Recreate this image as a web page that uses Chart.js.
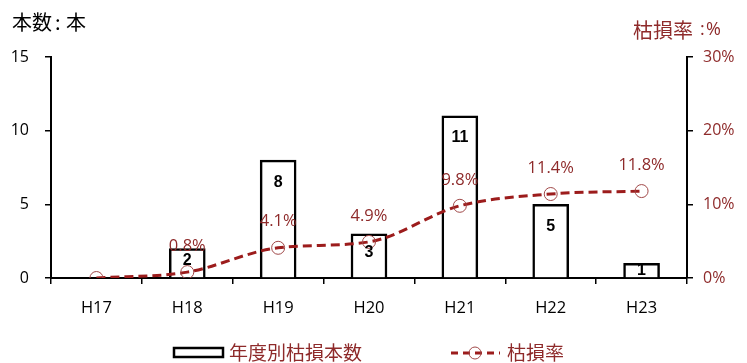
<!DOCTYPE html>
<html>
<head>
<meta charset="utf-8">
<script src="https://cdn.jsdelivr.net/npm/chart.js@4/dist/chart.umd.min.js"></script>
<style>
  html, body { margin: 0; padding: 0; background: #fff; }
  #wrap { width: 747px; height: 363px; }
</style>
</head>
<body>
<div id="wrap"><canvas id="mixChart" width="747" height="363"></canvas></div>
<script>
var years = ['H17', 'H18', 'H19', 'H20', 'H21', 'H22', 'H23'];
var deadTrees = [0, 2, 8, 3, 11, 5, 1];      // 年度別枯損本数
var deadRate = [0, 0.8, 4.1, 4.9, 9.8, 11.4, 11.8];  // 枯損率 (%)
var countTicks = [0, 5, 10, 15];
var rateTicks = [0, 10, 20, 30];

var darkRed = '#9c1c1c';
var labelRed = '#8e2a2a';
var jpFont = '"Noto Sans CJK JP", "Noto Sans", sans-serif';
var numFont = '"Open Sans", "Noto Sans", sans-serif';

// value labels, titles and legend drawn straight onto the canvas
var extrasPlugin = {
    id: 'extras',
    afterDatasetsDraw: function (chart) {
        var ctx = chart.ctx;
        ctx.save();
        ctx.textAlign = 'center';
        ctx.textBaseline = 'middle';

        var bars = chart.getDatasetMeta(0).data;
        var base = chart.scales.y.getPixelForValue(0);
        ctx.fillStyle = '#000';
        ctx.font = 'bold 16px "Liberation Sans", sans-serif';
        bars.forEach(function (bar, i) {
            if (!deadTrees[i]) return;
            var h = base - bar.y;
            var off = Math.max(7, Math.min(22, h / 2 - 3));
            ctx.fillText(String(deadTrees[i]), bar.x, bar.y + off);
        });

        var pts = chart.getDatasetMeta(1).data;
        ctx.fillStyle = labelRed;
        ctx.font = '16.5px ' + numFont;
        pts.forEach(function (p, i) {
            if (!deadRate[i]) return;
            ctx.fillText(deadRate[i].toFixed(1) + '%', p.x, p.y - 26);
        });
        ctx.restore();
    },
    afterDraw: function (chart) {
        var ctx = chart.ctx;
        ctx.save();
        ctx.textBaseline = 'middle';
        ctx.textAlign = 'left';

        // axis unit captions
        ctx.fillStyle = '#000';
        ctx.font = '20px ' + jpFont;
        ctx.fillText('本数', 12, 22);
        ctx.fillText(':', 55, 22);
        ctx.fillText('本', 66, 22);

        ctx.fillStyle = labelRed;
        ctx.font = '20px ' + jpFont;
        ctx.fillText('枯損率', 633, 30);
        ctx.font = '18px ' + numFont;
        ctx.fillText(':', 700, 30);
        ctx.fillText('%', 706, 30);

        // legend
        var ly = 353;
        ctx.strokeStyle = '#000';
        ctx.lineWidth = 2.5;
        ctx.strokeRect(174, 348, 49, 9);
        ctx.fillStyle = labelRed;
        ctx.font = '19px ' + jpFont;
        ctx.fillText(chart.data.datasets[0].label, 229, ly);

        ctx.strokeStyle = darkRed;
        ctx.lineWidth = 3;
        ctx.setLineDash([7, 5]);
        ctx.beginPath();
        ctx.moveTo(451, ly);
        ctx.lineTo(500, ly);
        ctx.stroke();
        ctx.setLineDash([]);
        ctx.strokeStyle = '#a04848';
        ctx.lineWidth = 1;
        ctx.beginPath();
        ctx.arc(475, ly, 6, 0, Math.PI * 2);
        ctx.stroke();
        ctx.fillText(chart.data.datasets[1].label, 507, ly);
        ctx.restore();
    }
};

var axisGrid = {
    display: true,
    drawOnChartArea: false,
    drawTicks: true,
    tickLength: 6,
    color: '#000',
    lineWidth: 1.5
};

var ctx = document.getElementById('mixChart').getContext('2d');
new Chart(ctx, {
    type: 'bar',
    data: {
        labels: years,
        datasets: [
            {
                type: 'bar',
                label: '年度別枯損本数',
                data: deadTrees,
                yAxisID: 'y',
                backgroundColor: '#ffffff',
                borderColor: '#000000',
                borderWidth: 2.5,
                barThickness: 36,
                order: 2
            },
            {
                type: 'line',
                label: '枯損率',
                data: deadRate,
                yAxisID: 'y1',
                borderColor: darkRed,
                borderWidth: 3,
                borderDash: [9, 5],
                cubicInterpolationMode: 'monotone',
                pointRadius: 6.5,
                pointBorderWidth: 1,
                pointBorderColor: '#a04848',
                pointBackgroundColor: 'rgba(0,0,0,0)',
                fill: false,
                order: 1
            }
        ]
    },
    options: {
        responsive: false,
        animation: false,
        events: [],
        layout: { padding: { top: 57, left: 0, right: 0, bottom: 0 } },
        plugins: {
            legend: { display: false },
            tooltip: { enabled: false }
        },
        scales: {
            x: {
                grid: Object.assign({}, axisGrid, { offset: true }),
                border: { display: true, color: '#000', width: 2 },
                ticks: { color: '#000', font: { family: numFont, size: 16.5 }, padding: 14 },
                afterFit: function (s) { s.height = 85; }
            },
            y: {
                position: 'left',
                min: 0,
                max: 15,
                afterBuildTicks: function (s) { s.ticks = countTicks.map(function (v) { return { value: v }; }); },
                grid: axisGrid,
                border: { display: true, color: '#000', width: 2 },
                ticks: { color: '#000', font: { family: numFont, size: 16 }, padding: 16 },
                afterFit: function (s) { s.width = 51; }
            },
            y1: {
                position: 'right',
                min: 0,
                max: 30,
                afterBuildTicks: function (s) { s.ticks = rateTicks.map(function (v) { return { value: v }; }); },
                grid: axisGrid,
                border: { display: true, color: '#000', width: 2 },
                ticks: {
                    color: labelRed,
                    font: { family: numFont, size: 16 },
                    padding: 10,
                    callback: function (v) { return v + '%'; }
                },
                afterFit: function (s) { s.width = 60; }
            }
        }
    },
    plugins: [extrasPlugin]
});
</script>
</body>
</html>
